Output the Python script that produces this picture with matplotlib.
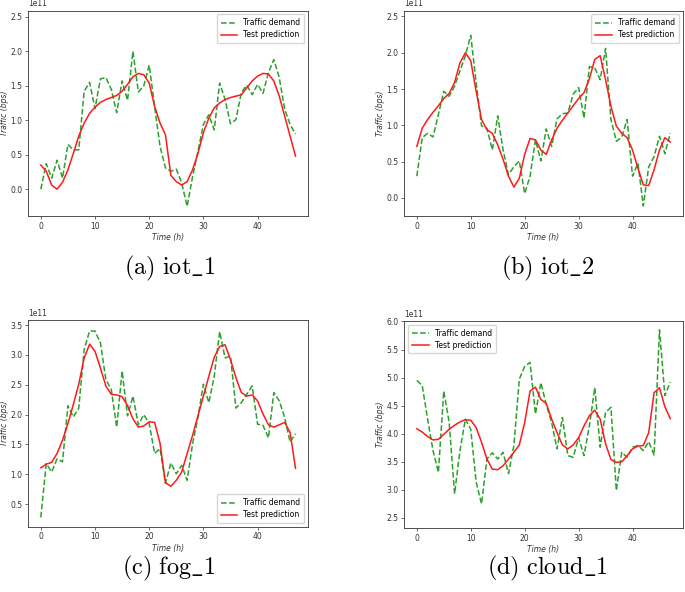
import matplotlib
matplotlib.use("Agg")
import matplotlib.pyplot as plt
import numpy as np

hours = list(range(48))

iot1_demand = [0.00, 0.37, 0.16, 0.42, 0.16, 0.65, 0.57, 0.57, 1.42, 1.55, 1.17, 1.60, 1.62, 1.45, 1.11, 1.57,
               1.29, 2.00, 1.41, 1.50, 1.80, 1.20, 0.62, 0.31, 0.26, 0.29, 0.09, -0.25, 0.18, 0.55, 0.94, 1.08,
               0.86, 1.54, 1.30, 0.95, 1.01, 1.40, 1.51, 1.37, 1.52, 1.39, 1.69, 1.88, 1.62, 1.16, 0.94, 0.80]
iot1_pred = [0.35, 0.26, 0.06, 0.00, 0.10, 0.28, 0.52, 0.77, 0.96, 1.10, 1.19, 1.26, 1.30, 1.33, 1.36, 1.42,
             1.52, 1.63, 1.68, 1.66, 1.54, 1.20, 0.96, 0.79, 0.20, 0.11, 0.06, 0.11, 0.28, 0.52, 0.82, 1.03,
             1.18, 1.25, 1.30, 1.33, 1.35, 1.37, 1.47, 1.57, 1.64, 1.68, 1.67, 1.57, 1.35, 1.06, 0.77, 0.48]

iot2_demand = [0.30, 0.83, 0.89, 0.84, 1.15, 1.47, 1.40, 1.54, 1.75, 1.96, 2.24, 1.59, 0.99, 0.96, 0.66, 1.13,
               0.66, 0.32, 0.43, 0.51, 0.06, 0.30, 0.80, 0.51, 0.95, 0.71, 1.09, 1.16, 1.17, 1.43, 1.52, 1.10,
               1.81, 1.79, 1.63, 2.06, 1.08, 0.78, 0.84, 1.08, 0.30, 0.48, -0.11, 0.43, 0.57, 0.85, 0.61, 0.89]
iot2_pred = [0.71, 0.96, 1.08, 1.18, 1.27, 1.37, 1.44, 1.59, 1.86, 2.00, 1.89, 1.47, 1.08, 0.94, 0.89, 0.73,
             0.53, 0.30, 0.15, 0.27, 0.60, 0.82, 0.80, 0.66, 0.60, 0.80, 0.96, 1.07, 1.17, 1.27, 1.37, 1.45,
             1.64, 1.91, 1.96, 1.63, 1.26, 0.99, 0.89, 0.83, 0.66, 0.41, 0.18, 0.17, 0.39, 0.66, 0.83, 0.77]

fog1_demand = [0.28, 1.18, 1.04, 1.26, 1.21, 2.15, 1.96, 2.11, 3.09, 3.40, 3.40, 3.20, 2.59, 2.42, 1.79, 2.73,
               1.98, 2.31, 1.83, 2.00, 1.85, 1.35, 1.43, 0.85, 1.19, 1.01, 1.15, 0.90, 1.51, 1.95, 2.51, 2.20,
               2.64, 3.39, 2.95, 2.98, 2.11, 2.20, 2.34, 2.48, 1.84, 1.82, 1.61, 2.37, 2.23, 1.95, 1.54, 1.68]
fog1_pred = [1.11, 1.17, 1.20, 1.35, 1.57, 1.85, 2.17, 2.51, 2.95, 3.18, 3.06, 2.78, 2.48, 2.34, 2.33, 2.30,
             2.15, 1.93, 1.79, 1.81, 1.88, 1.87, 1.52, 0.86, 0.80, 0.90, 1.04, 1.35, 1.65, 1.98, 2.31, 2.64,
             2.96, 3.14, 3.17, 2.92, 2.62, 2.37, 2.31, 2.33, 2.23, 2.01, 1.83, 1.79, 1.83, 1.87, 1.70, 1.10]

cloud1_demand = [4.95, 4.86, 4.26, 3.70, 3.31, 4.76, 4.20, 2.93, 3.70, 4.26, 4.08, 3.14, 2.75, 3.55, 3.66, 3.55,
                 3.67, 3.29, 3.79, 4.97, 5.20, 5.27, 4.35, 4.91, 4.52, 4.20, 3.73, 4.29, 3.61, 3.58, 3.93, 3.61,
                 4.14, 4.82, 3.76, 4.38, 4.47, 2.99, 3.67, 3.58, 3.76, 3.79, 3.70, 3.86, 3.62, 5.85, 4.68, 4.92]
cloud1_pred = [4.09, 4.03, 3.95, 3.89, 3.90, 3.99, 4.08, 4.15, 4.21, 4.25, 4.24, 4.11, 3.85, 3.55, 3.37, 3.36,
               3.43, 3.55, 3.67, 3.80, 4.20, 4.76, 4.83, 4.61, 4.54, 4.26, 4.02, 3.80, 3.73, 3.80, 3.93, 4.14,
               4.32, 4.42, 4.26, 3.82, 3.54, 3.49, 3.50, 3.61, 3.73, 3.78, 3.79, 4.02, 4.73, 4.82, 4.48, 4.27]

captions = [r"$\mathrm{(a)\ iot\_1}$", r"$\mathrm{(b)\ iot\_2}$", r"$\mathrm{(c)\ fog\_1}$", r"$\mathrm{(d)\ cloud\_1}$"]
legend_labels = ["Traffic demand", "Test prediction"]
xlabel = "Time (h)"
ylabel = "Traffic (bps)"

plt.rcParams["mathtext.fontset"] = "cm"
plt.rcParams["font.family"] = "DejaVu Sans"

fig = plt.figure(figsize=(6.85, 5.92), dpi=100)

panels = [
    (iot1_demand, iot1_pred, [0.041, 0.635, 0.409, 0.347], (-0.39, 2.59), [0.0, 0.5, 1.0, 1.5, 2.0, 2.5], "upper right", (0.247, 0.546)),
    (iot2_demand, iot2_pred, [0.590, 0.635, 0.407, 0.347], (-0.25, 2.58), [0.0, 0.5, 1.0, 1.5, 2.0, 2.5], "upper right", (0.800, 0.546)),
    (fog1_demand, fog1_pred, [0.041, 0.110, 0.409, 0.349], (0.12, 3.58), [0.5, 1.0, 1.5, 2.0, 2.5, 3.0, 3.5], "lower right", (0.247, 0.040)),
    (cloud1_demand, cloud1_pred, [0.590, 0.108, 0.407, 0.350], (2.32, 6.01), [2.5, 3.0, 3.5, 4.0, 4.5, 5.0, 5.5, 6.0], "upper left", (0.800, 0.040)),
]

fs = 5.5
for (dem, pred, rect, ylim, yticks, loc, cap_pos), cap in zip(panels, captions):
    ax = fig.add_axes(rect)
    ax.plot(hours, np.array(dem) * 1e11, linestyle="--", color="#2ca02c", lw=1.1, label=legend_labels[0])
    ax.plot(hours, np.array(pred) * 1e11, linestyle="-", color="#ff1a1a", lw=1.1, label=legend_labels[1])
    ax.set_ylim(ylim[0] * 1e11, ylim[1] * 1e11)
    ax.set_yticks(np.array(yticks) * 1e11)
    ax.set_xticks([0, 10, 20, 30, 40])
    ax.tick_params(labelsize=fs, length=2, width=0.5, pad=2, colors="#333333")
    ax.yaxis.get_offset_text().set_fontsize(fs)
    ax.yaxis.get_offset_text().set_color("#333333")
    for s in ax.spines.values():
        s.set_linewidth(0.6)
        s.set_color("#333333")
    ax.set_xlabel(xlabel, fontsize=fs, style="italic", labelpad=1.5, color="#333333")
    ax.set_ylabel(ylabel, fontsize=fs, style="italic", labelpad=1, color="#333333")
    ax.legend(loc=loc, fontsize=fs, handlelength=2.2, borderpad=0.5, labelspacing=0.4)
    fig.text(cap_pos[0], cap_pos[1], cap, ha="center", va="center", fontsize=17.5)

fig.savefig("out.png", dpi=100)
